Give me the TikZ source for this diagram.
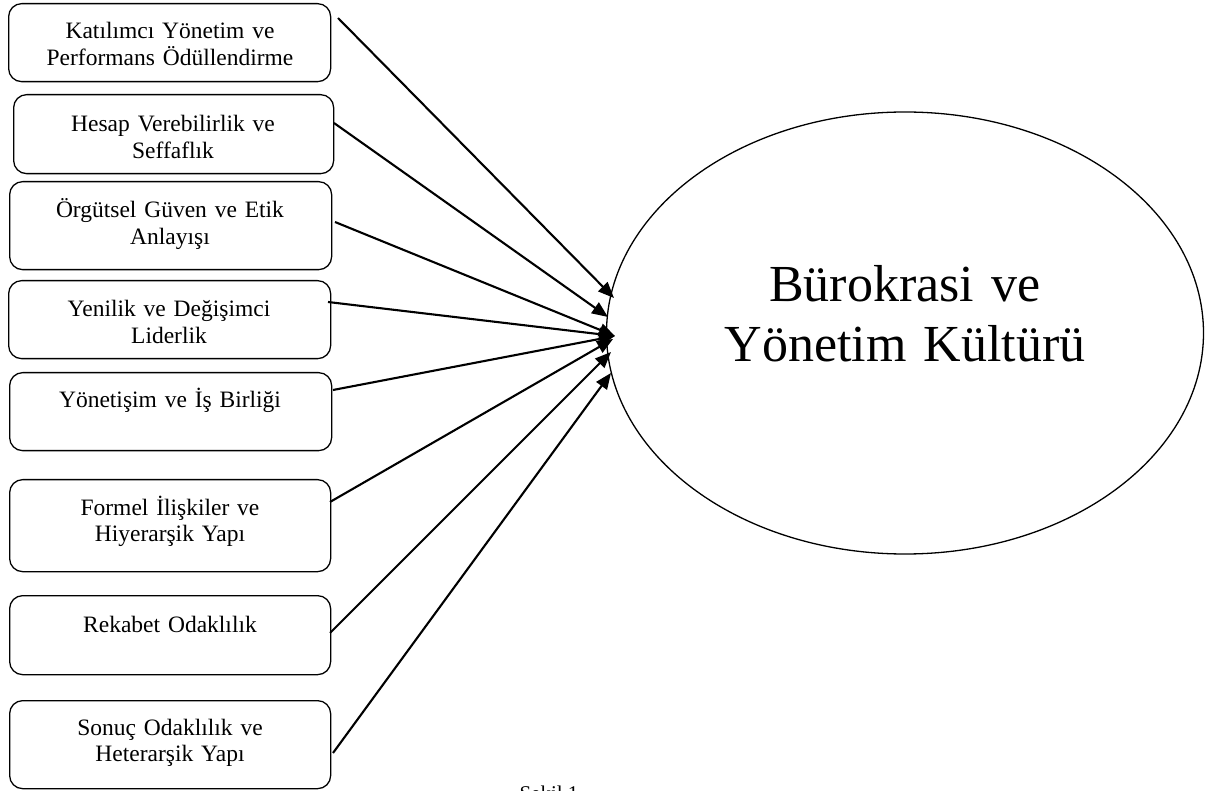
\documentclass[tikz,border=0pt]{standalone}
\usepackage{fontspec}
\setmainfont{Liberation Serif}
\usetikzlibrary{arrows.meta,shapes.geometric}
\tikzset{
  box/.style={draw, rounded corners=13pt, line width=1.3pt, inner sep=0pt, anchor=north west},
  boxtext/.style={text width=318pt, align=center, anchor=base, inner sep=0pt, font=\fontsize{23.5}{26.5}\selectfont},
  arr/.style={line width=2.1pt, -{Triangle[length=16pt,width=13pt]}},
  big/.style={draw, ellipse, line width=1.3pt, minimum width=597pt, minimum height=442pt, inner sep=0pt},
}
\begin{document}
\begin{tikzpicture}[x=1pt,y=-1pt]
\useasboundingbox (0,0) rectangle (1211,791);
% boxes
\node[box, minimum width=322pt, minimum height=78pt] (b1) at (8,3) {};
\node[box, minimum width=320pt, minimum height=79pt] (b2) at (13,94) {};
\node[box, minimum width=322pt, minimum height=88pt] (b3) at (9,181) {};
\node[box, minimum width=322pt, minimum height=78pt] (b4) at (8,280) {};
\node[box, minimum width=322pt, minimum height=78pt] (b5) at (9,372) {};
\node[box, minimum width=321pt, minimum height=92pt] (b6) at (9,479) {};
\node[box, minimum width=321pt, minimum height=79pt] (b7) at (9,595) {};
\node[box, minimum width=321pt, minimum height=88pt] (b8) at (9,700) {};
% texts
\node[boxtext] (t1) at (170,39) {Katılımcı Yönetim ve\\Performans Ödüllendirme};
\node[boxtext] (t2) at (173,132) {Hesap Verebilirlik ve\\Seffaflık};
\node[boxtext] (t3) at (170,218) {Örgütsel Güven ve Etik\\Anlayışı};
\node[boxtext] (t4) at (169,317) {Yenilik ve Değişimci\\Liderlik};
\node[boxtext] (t5) at (170,408) {Yönetişim ve İş Birliği};
\node[boxtext] (t6) at (170,515) {Formel İlişkiler ve\\Hiyerarşik Yapı};
\node[boxtext] (t7) at (170,632) {Rekabet Odaklılık};
\node[boxtext] (t8) at (170,735) {Sonuç Odaklılık ve\\Heterarşik Yapı};
% ellipse
\node[big] (e) at (905,333) {};
\node[text width=560pt, align=center, anchor=base, inner sep=0pt, font=\fontsize{52}{60}\selectfont] (et) at (905,302) {Bürokrasi ve\\Yönetim Kültürü};
% arrow coordinates
\coordinate (s1) at (338,18);  \coordinate (p1) at (614,298);
\coordinate (s2) at (334,123); \coordinate (p2) at (608,317);
\coordinate (s3) at (335,222); \coordinate (p3) at (615,336);
\coordinate (s4) at (328,302); \coordinate (p4) at (615,336);
\coordinate (s5) at (333,390); \coordinate (p5) at (615,336);
\coordinate (s6) at (330,502); \coordinate (p6) at (613,339);
\coordinate (s7) at (330,633); \coordinate (p7) at (611,352);
\coordinate (s8) at (333,753); \coordinate (p8) at (611,373);
\foreach \i in {1,...,8} { \draw[arr] (s\i) -- (p\i); }
% caption
\node[anchor=base, inner sep=0pt, font=\fontsize{21}{24}\selectfont] (cap) at (549,800) {Şekil 1};
\end{tikzpicture}
\end{document}
